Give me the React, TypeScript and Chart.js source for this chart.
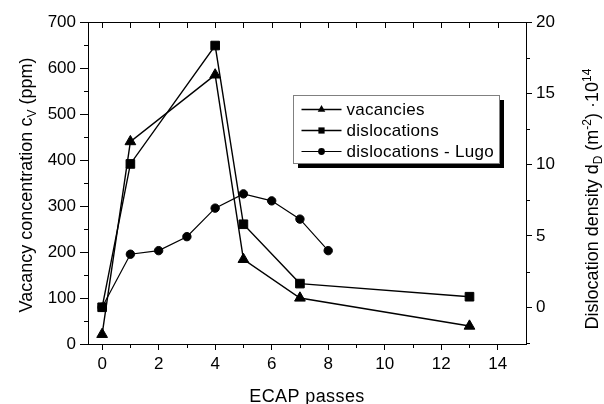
import React, { useEffect, useRef } from 'react';
import { Chart, registerables } from 'chart.js';
Chart.register(...registerables);

const passes = [0, 1, 4, 5, 7, 13];
const vacancies = [21, 440, 585, 184, 100, 39];
const dislocations = [0, 10.05, 18.35, 5.82, 1.66, 0.74];
const lugoPasses = [0, 1, 2, 3, 4, 5, 6, 7, 8];
const lugo = [0, 3.72, 3.97, 4.95, 6.95, 7.95, 7.46, 6.18, 3.97];
const xTicks = [0, 2, 4, 6, 8, 10, 12, 14];
const xMinorTicks = [1, 3, 5, 7, 9, 11, 13];
const leftTicks = [0, 100, 200, 300, 400, 500, 600, 700];
const leftMinorTicks = [50, 150, 250, 350, 450, 550, 650];
const rightTicks = [0, 5, 10, 15, 20];
const rightMinorTicks = [-2.5, 2.5, 7.5, 12.5, 17.5];
const legendLabels = ['vacancies', 'dislocations', 'dislocations - Lugo'];

const FONT = '"Liberation Sans", Arial, Helvetica, sans-serif';

type Seg = { t: string; size: number; dy: number };

function setSpacing(ctx: CanvasRenderingContext2D, px: number) {
  (ctx as any).letterSpacing = `${px}px`;
}

function richWidth(ctx: CanvasRenderingContext2D, segs: Seg[], sp: number) {
  let w = 0;
  setSpacing(ctx, sp);
  for (const s of segs) {
    ctx.font = `${s.size}px ${FONT}`;
    w += ctx.measureText(s.t).width;
  }
  return w;
}

function drawRich(ctx: CanvasRenderingContext2D, segs: Seg[], x: number, y: number, sp: number) {
  let cx = x;
  ctx.textAlign = 'left';
  ctx.textBaseline = 'alphabetic';
  setSpacing(ctx, sp);
  for (const s of segs) {
    ctx.font = `${s.size}px ${FONT}`;
    ctx.fillText(s.t, cx, y + s.dy);
    cx += ctx.measureText(s.t).width;
  }
  setSpacing(ctx, 0);
}

function drawMarker(ctx: CanvasRenderingContext2D, style: string, x: number, y: number, r: number) {
  ctx.beginPath();
  if (style === 'triangle') {
    ctx.moveTo(x, y - r);
    ctx.lineTo(x + r * 0.866, y + r * 0.5);
    ctx.lineTo(x - r * 0.866, y + r * 0.5);
    ctx.closePath();
  } else if (style === 'rect') {
    const s = r * Math.SQRT1_2;
    ctx.rect(x - s, y - s, 2 * s, 2 * s);
  } else {
    ctx.arc(x, y, r, 0, Math.PI * 2);
  }
  ctx.fill();
}

const framePlugin = {
  id: 'frame',
  afterDraw(chart: any) {
    const ctx: CanvasRenderingContext2D = chart.ctx;
    const { left, right, top, bottom } = chart.chartArea;
    const xs = chart.scales.x;
    const ys = chart.scales.y;
    const y1 = chart.scales.y1;
    ctx.save();
    ctx.strokeStyle = '#000';
    ctx.lineWidth = 1;
    ctx.beginPath();
    ctx.moveTo(left, Math.round(top) + 0.5);
    ctx.lineTo(right, Math.round(top) + 0.5);
    for (const v of [...xTicks, ...xMinorTicks]) {
      const px = Math.round(xs.getPixelForValue(v)) + 0.5;
      ctx.moveTo(px, top);
      ctx.lineTo(px, top + 6);
    }
    for (const v of xMinorTicks) {
      const px = Math.round(xs.getPixelForValue(v)) + 0.5;
      ctx.moveTo(px, bottom);
      ctx.lineTo(px, bottom + 4);
    }
    for (const v of leftMinorTicks) {
      const py = Math.round(ys.getPixelForValue(v)) + 0.5;
      ctx.moveTo(left, py);
      ctx.lineTo(left - 4, py);
    }
    for (const v of rightMinorTicks) {
      const py = Math.round(y1.getPixelForValue(v)) + 0.5;
      ctx.moveTo(right, py);
      ctx.lineTo(right + 4, py);
    }
    ctx.stroke();

    ctx.fillStyle = '#000';
    const xTitle: Seg[] = [{ t: 'ECAP passes', size: 18, dy: 0 }];
    const xw = richWidth(ctx, xTitle, 0.4);
    drawRich(ctx, xTitle, (left + right) / 2 - xw / 2, 401.5, 0.4);

    const lTitle: Seg[] = [
      { t: 'Vacancy concentration c', size: 18, dy: 0 },
      { t: 'V', size: 12, dy: 4 },
      { t: ' (ppm)', size: 18, dy: 0 },
    ];
    const lw = richWidth(ctx, lTitle, 0);
    ctx.save();
    ctx.translate(31.5, 185 + lw / 2);
    ctx.rotate(-Math.PI / 2);
    drawRich(ctx, lTitle, 0, 0, 0);
    ctx.restore();

    const rTitle: Seg[] = [
      { t: 'Dislocation density d', size: 18, dy: 0 },
      { t: 'D', size: 12, dy: 4 },
      { t: ' (m', size: 18, dy: 0 },
      { t: '-2', size: 12, dy: -7 },
      { t: ') ·10', size: 18, dy: 0 },
      { t: '14', size: 12, dy: -7 },
    ];
    const rw = richWidth(ctx, rTitle, 0);
    ctx.save();
    ctx.translate(597.5, 199 + rw / 2);
    ctx.rotate(-Math.PI / 2);
    drawRich(ctx, rTitle, 0, 0, 0);
    ctx.restore();

    // legend
    const bx = 293, by = 95, bw = 206, bh = 68;
    ctx.fillStyle = '#000';
    ctx.fillRect(bx + 5, by + 5, bw, bh);
    ctx.fillStyle = '#fff';
    ctx.fillRect(bx, by, bw, bh);
    ctx.strokeStyle = '#808080';
    ctx.lineWidth = 1;
    ctx.strokeRect(bx + 0.5, by + 0.5, bw, bh);

    const rows = [109.5, 130.5, 151.5];
    const styles = ['triangle', 'rect', 'circle'];
    const radii = [4.4, 4.4, 3.4];
    const widths = [1.5, 1.5, 1];
    chart.data.datasets.forEach((_ds: any, i: number) => {
      const ry = rows[i];
      ctx.strokeStyle = '#000';
      ctx.lineWidth = widths[i];
      ctx.beginPath();
      ctx.moveTo(301.5, ry);
      ctx.lineTo(341.5, ry);
      ctx.stroke();
      ctx.fillStyle = '#000';
      drawMarker(ctx, styles[i], 321.5, ry, radii[i]);
      ctx.font = `17px ${FONT}`;
      setSpacing(ctx, 0.3);
      ctx.textAlign = 'left';
      ctx.textBaseline = 'middle';
      ctx.fillText(legendLabels[i], 346.5, ry + 1);
      setSpacing(ctx, 0);
    });
    ctx.restore();
  },
};

export default function App() {
  const ref = useRef<HTMLCanvasElement>(null);
  useEffect(() => {
    if (!ref.current) return;
    const tickFont = { family: FONT, size: 17 };
    const chart = new Chart(ref.current, {
      type: 'line',
      data: {
        datasets: [
          {
            label: legendLabels[0],
            data: passes.map((p, i) => ({ x: p, y: vacancies[i] })),
            yAxisID: 'y',
            borderColor: '#000',
            backgroundColor: '#000',
            borderWidth: 1.4,
            pointStyle: 'triangle',
            pointRadius: 6.2,
            pointHoverRadius: 6.2,
            pointBorderWidth: 1,
            pointBorderColor: '#000',
            pointBackgroundColor: '#000',
            tension: 0,
          },
          {
            label: legendLabels[1],
            data: passes.map((p, i) => ({ x: p, y: dislocations[i] })),
            yAxisID: 'y1',
            borderColor: '#000',
            backgroundColor: '#000',
            borderWidth: 1.4,
            pointStyle: 'rect',
            pointRadius: 6.1,
            pointHoverRadius: 6.1,
            pointBorderWidth: 1,
            pointBorderColor: '#000',
            pointBackgroundColor: '#000',
            tension: 0,
          },
          {
            label: legendLabels[2],
            data: lugoPasses.map((p, i) => ({ x: p, y: lugo[i] })),
            yAxisID: 'y1',
            borderColor: '#000',
            backgroundColor: '#000',
            borderWidth: 1.2,
            pointStyle: 'circle',
            pointRadius: 4.2,
            pointHoverRadius: 4.2,
            pointBorderWidth: 1,
            pointBorderColor: '#000',
            pointBackgroundColor: '#000',
            tension: 0,
          },
        ],
      },
      options: {
        responsive: false,
        animation: false,
        devicePixelRatio: 1,
        layout: { padding: { top: 22, left: 0, right: 0, bottom: 0 } },
        plugins: { legend: { display: false }, tooltip: { enabled: false } },
        events: [],
        scales: {
          x: {
            type: 'linear',
            position: 'bottom',
            min: -0.5,
            max: 15,
            afterBuildTicks: (s: any) => {
              s.ticks = xTicks.map((v) => ({ value: v }));
            },
            afterFit: (s: any) => {
              s.height = 60;
            },
            ticks: { font: tickFont, color: '#000', padding: 4, maxRotation: 0, autoSkip: false, callback: (v: any) => String(v) },
            grid: { display: true, drawOnChartArea: false, drawTicks: true, tickLength: 6, color: '#000', lineWidth: 1 },
            border: { display: true, color: '#000', width: 1 },
          },
          y: {
            type: 'linear',
            position: 'left',
            min: 0,
            max: 700,
            afterBuildTicks: (s: any) => {
              s.ticks = leftTicks.map((v) => ({ value: v }));
            },
            afterFit: (s: any) => {
              s.width = 88;
            },
            ticks: { font: tickFont, color: '#000', padding: 4, autoSkip: false, callback: (v: any) => String(v) },
            grid: { display: true, drawOnChartArea: false, drawTicks: true, tickLength: 8, color: '#000', lineWidth: 1 },
            border: { display: true, color: '#000', width: 1 },
          },
          y1: {
            type: 'linear',
            position: 'right',
            min: -2.575,
            max: 20,
            afterBuildTicks: (s: any) => {
              s.ticks = rightTicks.map((v) => ({ value: v }));
            },
            afterFit: (s: any) => {
              s.width = 78;
            },
            ticks: { font: tickFont, color: '#000', padding: 4, autoSkip: false, callback: (v: any) => String(v) },
            grid: { display: true, drawOnChartArea: false, drawTicks: true, tickLength: 6, color: '#000', lineWidth: 1 },
            border: { display: true, color: '#000', width: 1 },
          },
        },
      },
      plugins: [framePlugin],
    } as any);
    return () => chart.destroy();
  }, []);
  return (
    <div style={{ position: 'fixed', left: 0, top: 0, width: 604, height: 404, background: '#fff' }}>
      <canvas ref={ref} width={604} height={404} style={{ width: 604, height: 404 }} />
    </div>
  );
}
